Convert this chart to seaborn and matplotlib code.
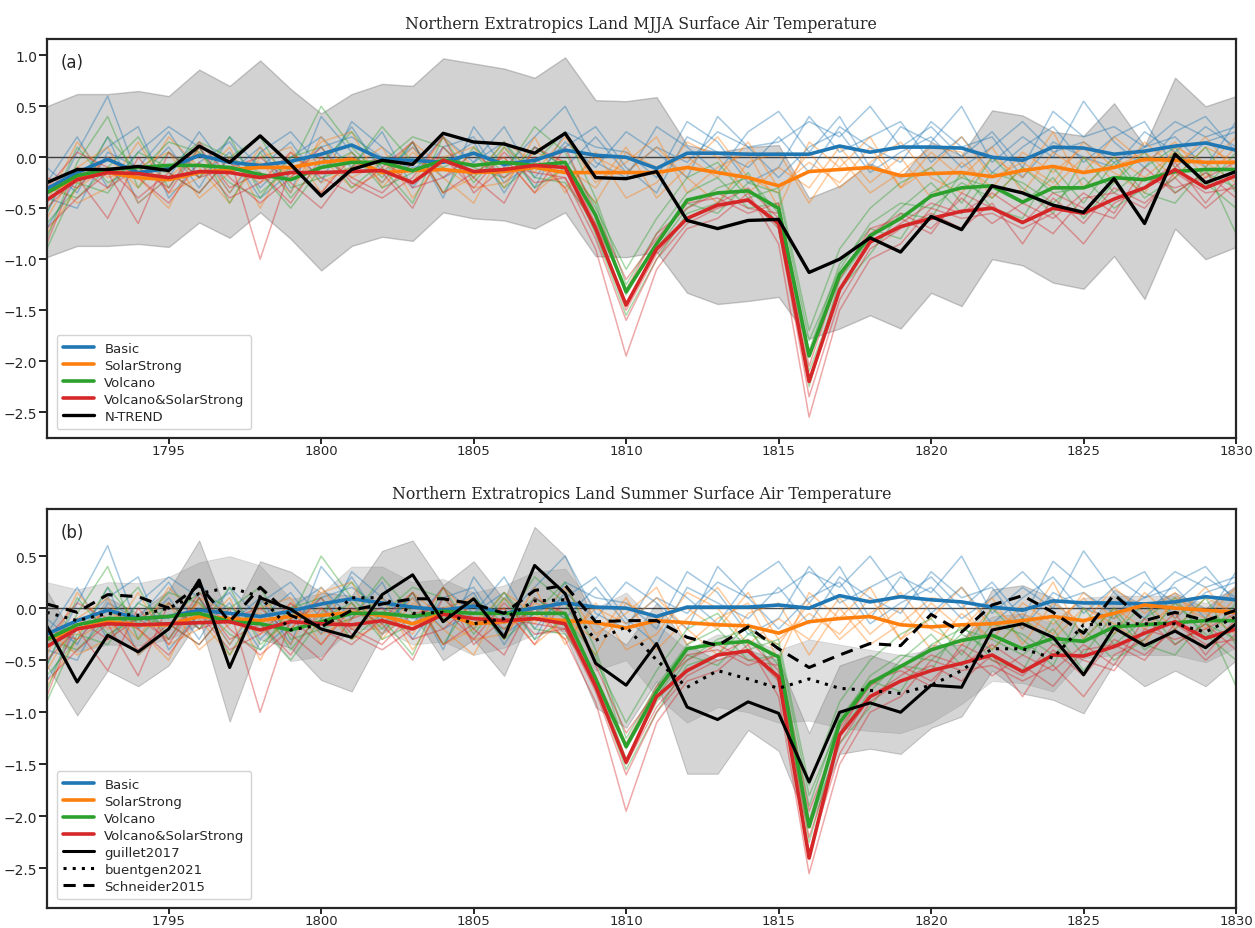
import numpy as np
import pandas as pd
import matplotlib
matplotlib.use("Agg")
import matplotlib.pyplot as plt
import seaborn as sns

years = list(range(1791, 1831))

# ---------------- ensemble members (thin lines) ----------------
basic_members = [
    [-0.55,0.05,0.6,-0.2,0.1,-0.3,0.2,-0.1,0.15,-0.25,0.35,0.1,-0.15,0.2,-0.05,0.3,-0.2,0.15,-0.1,0.25,0.05,-0.2,0.4,0.1,0.15,0.35,0.2,0.5,0.1,0.3,0.0,0.25,-0.1,0.45,0.2,0.3,0.1,0.35,0.2,0.3],
    [-0.1,-0.35,0.2,-0.45,-0.2,0.25,-0.15,0.1,-0.35,0.4,0.05,-0.25,0.15,-0.4,0.3,-0.1,0.2,0.5,-0.05,-0.2,0.3,0.1,-0.15,0.25,0.45,0.05,0.4,-0.1,0.3,0.15,0.5,-0.05,0.2,0.0,0.55,0.15,-0.1,0.25,0.4,0.05],
    [-0.7,-0.2,0.1,0.3,-0.4,-0.05,0.15,-0.3,0.0,0.2,-0.1,0.25,-0.3,0.1,0.2,-0.25,-0.05,0.1,0.3,-0.1,-0.35,0.2,0.05,-0.1,0.2,-0.15,0.3,0.1,-0.05,0.35,0.1,0.2,-0.2,0.15,0.0,-0.1,0.25,0.05,0.3,0.1],
    [-0.25,0.2,-0.3,0.05,0.3,0.1,-0.35,0.05,0.25,-0.1,0.3,-0.15,0.1,-0.2,-0.05,0.15,-0.3,0.25,0.1,0.05,-0.2,0.35,0.15,-0.25,-0.1,0.4,0.05,0.2,0.35,-0.05,0.2,-0.15,0.1,0.3,-0.05,0.2,0.35,-0.1,0.15,0.25],
    [-0.4,-0.5,0.05,-0.1,0.25,-0.2,0.05,-0.4,-0.15,0.1,0.2,0.0,-0.1,-0.05,0.15,-0.35,0.1,-0.1,0.2,-0.15,0.1,-0.05,0.25,0.1,-0.2,0.1,0.25,-0.15,0.05,0.2,-0.1,0.1,0.35,0.05,0.15,-0.05,0.1,0.2,-0.1,0.35],
]
solar_members = [
    [-0.6,-0.1,0.1,-0.45,-0.2,0.05,-0.35,0.1,-0.2,0.15,0.25,-0.3,0.05,-0.2,-0.45,0.1,-0.15,0.2,-0.25,-0.05,0.2,-0.35,-0.1,0.05,-0.5,0.15,-0.1,0.2,-0.3,0.05,-0.2,0.1,-0.35,0.05,-0.15,0.2,-0.05,0.15,-0.2,0.1],
    [-0.2,-0.45,-0.3,0.15,-0.35,-0.2,0.1,-0.5,0.05,-0.25,-0.1,0.1,-0.4,0.0,0.1,-0.3,0.2,-0.35,0.05,-0.4,-0.25,0.15,0.0,-0.35,-0.1,-0.3,0.1,-0.25,0.0,-0.4,-0.05,-0.3,0.05,-0.15,0.1,-0.25,0.15,-0.1,0.2,-0.15],
    [-0.45,0.15,-0.2,-0.1,0.05,-0.4,-0.15,-0.05,-0.35,0.2,-0.2,-0.05,-0.25,0.2,-0.1,0.0,-0.35,-0.1,-0.3,0.1,-0.4,-0.1,0.2,-0.2,-0.35,0.05,-0.3,-0.05,0.15,-0.2,-0.35,0.0,-0.2,0.25,-0.3,0.0,-0.2,0.05,-0.1,0.2],
    [-0.3,-0.25,0.0,-0.3,0.2,-0.1,-0.45,0.0,0.1,-0.35,0.05,-0.25,0.1,-0.35,-0.2,0.15,-0.05,-0.3,0.0,-0.15,0.1,-0.2,-0.45,-0.05,0.05,-0.45,0.0,-0.35,-0.15,0.1,0.05,-0.4,-0.1,-0.3,0.0,-0.15,-0.35,0.1,-0.05,-0.25],
    [-0.75,-0.3,-0.1,-0.2,-0.5,0.1,-0.05,-0.25,-0.1,0.0,-0.3,-0.15,0.15,-0.1,-0.3,-0.25,0.05,-0.05,-0.45,0.05,-0.1,0.0,-0.2,0.15,-0.3,-0.05,-0.25,0.1,-0.3,-0.1,0.2,-0.2,-0.05,-0.25,0.15,-0.1,0.05,-0.2,0.1,-0.05],
]
volcano_members = [
    [-0.8,-0.05,0.4,-0.3,0.05,-0.2,0.2,-0.35,-0.1,0.5,0.1,-0.2,0.15,-0.35,0.1,-0.15,0.3,0.05,-0.5,-1.1,-0.6,-0.2,-0.05,-0.4,-0.3,-1.7,-0.9,-0.5,-0.25,-0.1,-0.45,0.0,-0.3,-0.55,0.0,-0.35,-0.1,0.1,-0.3,0.05],
    [-0.3,-0.4,-0.1,0.2,-0.3,0.1,-0.45,0.05,-0.4,-0.05,0.25,-0.1,-0.45,0.2,-0.25,0.1,-0.3,-0.1,-0.75,-1.55,-1.0,-0.55,-0.45,-0.15,-0.7,-2.1,-1.3,-0.95,-0.55,-0.6,-0.15,-0.5,-0.6,-0.1,-0.45,-0.05,-0.4,-0.2,0.1,-0.35],
    [-0.55,0.1,-0.25,-0.1,-0.15,-0.35,0.0,0.2,-0.3,-0.2,-0.1,0.3,-0.05,-0.1,0.05,-0.3,-0.05,0.25,-0.4,-1.25,-0.75,-0.35,-0.2,-0.5,-0.45,-1.9,-1.05,-0.7,-0.8,-0.35,-0.2,-0.3,-0.45,-0.2,-0.6,-0.25,0.05,-0.35,-0.15,-0.3],
    [-0.65,-0.3,0.2,-0.15,0.15,0.05,-0.25,-0.4,0.0,0.1,-0.3,-0.05,0.2,0.1,-0.2,0.15,-0.2,-0.25,-0.65,-1.45,-0.9,-0.5,-0.3,-0.2,-0.55,-2.25,-1.2,-0.8,-0.5,-0.25,-0.55,-0.15,-0.25,-0.45,-0.2,-0.5,-0.3,0.05,-0.25,-0.5],
    [-0.9,-0.25,-0.35,0.05,-0.1,0.15,0.0,-0.15,-0.5,-0.1,0.05,-0.3,-0.15,0.0,-0.1,-0.2,0.1,-0.1,-0.45,-1.35,-0.85,-0.45,-0.55,-0.25,-0.35,-1.8,-1.1,-0.65,-0.45,-0.5,-0.25,-0.4,-0.1,-0.35,-0.3,0.0,-0.35,-0.45,-0.1,-0.75],
]
volsolar_members = [
    [-0.5,-0.2,-0.6,0.0,-0.35,0.1,-0.3,-0.15,-0.45,0.0,-0.2,-0.35,-0.05,0.0,-0.3,0.05,-0.25,-0.2,-0.8,-1.6,-1.0,-0.65,-0.5,-0.4,-0.7,-2.35,-1.4,-0.9,-0.7,-0.55,-0.7,-0.45,-0.85,-0.4,-0.65,-0.3,-0.45,-0.2,-0.5,-0.25],
    [-0.3,0.05,-0.1,-0.4,-0.15,-0.35,0.0,-1.0,-0.1,-0.35,0.0,-0.15,-0.5,0.1,-0.2,-0.45,0.1,-0.05,-0.65,-1.3,-0.75,-0.5,-0.35,-0.5,-0.55,-2.05,-1.15,-0.75,-0.55,-0.7,-0.4,-0.65,-0.45,-0.6,-0.35,-0.55,-0.1,-0.35,-0.15,-0.4],
    [-0.7,-0.4,-0.15,-0.65,0.05,-0.2,-0.1,0.0,-0.25,-0.5,-0.1,0.0,-0.3,-0.2,0.05,-0.2,0.0,-0.3,-0.9,-1.95,-1.1,-0.7,-0.6,-0.35,-0.85,-2.55,-1.5,-1.0,-0.85,-0.5,-0.6,-0.55,-0.7,-0.55,-0.85,-0.45,-0.3,-0.05,-0.45,-0.1],
    [-0.2,-0.3,0.0,-0.2,-0.45,-0.05,-0.4,-0.25,0.05,-0.2,-0.35,-0.1,0.15,-0.35,-0.15,0.0,-0.35,0.1,-0.55,-1.2,-0.8,-0.45,-0.4,-0.55,-0.45,-1.95,-1.2,-0.7,-0.6,-0.75,-0.35,-0.5,-0.65,-0.35,-0.5,-0.6,-0.2,-0.3,-0.2,-0.05],
    [-0.85,-0.1,-0.3,-0.1,-0.3,0.15,-0.2,-0.45,-0.2,0.1,-0.25,-0.4,-0.2,0.2,-0.35,-0.1,-0.15,-0.2,-0.7,-1.5,-0.95,-0.6,-0.45,-0.3,-0.6,-2.2,-1.3,-0.85,-0.65,-0.45,-0.55,-0.35,-0.55,-0.75,-0.4,-0.35,-0.5,-0.15,-0.35,-0.3],
]

# ---------------- panel (a): ensemble means + N-TREND ----------------
basic_a = [-0.31,-0.15,-0.02,-0.15,-0.11,0.02,-0.05,-0.08,-0.04,0.03,0.12,-0.02,-0.03,-0.05,0.04,-0.07,-0.03,0.07,0.02,0.0,-0.11,0.04,0.04,0.03,0.03,0.03,0.11,0.05,0.1,0.1,0.09,0.0,-0.03,0.1,0.09,0.03,0.06,0.11,0.14,0.07]
solar_a = [-0.35,-0.2,-0.15,-0.2,-0.22,-0.15,-0.12,-0.1,-0.1,-0.05,-0.02,-0.15,-0.13,-0.12,-0.15,-0.14,-0.1,-0.15,-0.15,-0.15,-0.15,-0.1,-0.15,-0.2,-0.28,-0.14,-0.12,-0.1,-0.18,-0.16,-0.15,-0.19,-0.13,-0.09,-0.15,-0.1,-0.02,-0.03,-0.05,-0.05]
volcano_a = [-0.35,-0.18,-0.12,-0.1,-0.08,-0.08,-0.1,-0.17,-0.22,-0.1,-0.05,-0.05,-0.13,-0.03,-0.08,-0.05,-0.08,-0.05,-0.57,-1.32,-0.85,-0.42,-0.35,-0.33,-0.5,-1.95,-1.15,-0.77,-0.6,-0.38,-0.3,-0.28,-0.44,-0.3,-0.3,-0.2,-0.22,-0.14,-0.12,-0.12]
volsolar_a = [-0.42,-0.22,-0.15,-0.16,-0.2,-0.14,-0.15,-0.2,-0.15,-0.15,-0.14,-0.13,-0.25,-0.03,-0.14,-0.12,-0.08,-0.1,-0.7,-1.45,-0.9,-0.6,-0.47,-0.42,-0.65,-2.2,-1.3,-0.83,-0.68,-0.6,-0.53,-0.5,-0.64,-0.5,-0.55,-0.41,-0.3,-0.12,-0.3,-0.18]
ntrend = [-0.25,-0.12,-0.12,-0.09,-0.13,0.11,-0.05,0.21,-0.07,-0.38,-0.12,-0.03,-0.07,0.235,0.15,0.13,0.04,0.235,-0.2,-0.21,-0.14,-0.62,-0.7,-0.62,-0.61,-1.13,-1.0,-0.79,-0.93,-0.58,-0.71,-0.28,-0.35,-0.47,-0.54,-0.21,-0.65,0.03,-0.25,-0.14]
ntrend_hi = [0.5,0.62,0.62,0.65,0.6,0.86,0.7,0.95,0.67,0.43,0.62,0.72,0.7,0.97,0.92,0.87,0.78,0.98,0.56,0.55,0.59,0.12,0.05,0.1,0.12,-0.4,-0.28,-0.06,-0.2,0.15,0.02,0.46,0.41,0.25,0.21,0.53,0.11,0.78,0.5,0.6]
ntrend_lo = [-0.98,-0.87,-0.87,-0.85,-0.88,-0.64,-0.79,-0.54,-0.8,-1.11,-0.87,-0.78,-0.82,-0.54,-0.6,-0.62,-0.7,-0.54,-0.97,-0.98,-0.93,-1.33,-1.44,-1.41,-1.37,-1.78,-1.68,-1.55,-1.68,-1.33,-1.46,-1.0,-1.06,-1.23,-1.29,-0.97,-1.39,-0.7,-1.0,-0.88]

# ---------------- panel (b): ensemble means + reconstructions ----------------
basic_b = [-0.25,-0.12,-0.02,-0.1,-0.08,-0.02,-0.05,-0.08,-0.03,0.04,0.09,0.05,0.01,-0.02,0.02,-0.05,0.0,0.05,0.01,0.0,-0.08,0.01,0.01,0.01,0.03,0.0,0.12,0.06,0.11,0.08,0.06,0.01,-0.02,0.07,0.05,0.05,0.04,0.06,0.11,0.08]
solar_b = [-0.3,-0.2,-0.13,-0.16,-0.16,-0.08,-0.1,-0.12,-0.08,-0.07,-0.04,-0.07,-0.15,-0.05,-0.15,-0.13,-0.1,-0.12,-0.14,-0.19,-0.12,-0.14,-0.16,-0.17,-0.24,-0.13,-0.1,-0.08,-0.16,-0.18,-0.16,-0.15,-0.12,-0.08,-0.12,-0.05,0.03,0.0,-0.02,-0.04]
volcano_b = [-0.3,-0.16,-0.1,-0.1,-0.08,-0.05,-0.13,-0.15,-0.21,-0.13,-0.05,-0.05,-0.08,-0.03,-0.05,-0.05,-0.05,-0.05,-0.68,-1.33,-0.8,-0.39,-0.34,-0.32,-0.47,-2.1,-1.1,-0.72,-0.56,-0.4,-0.31,-0.26,-0.39,-0.29,-0.32,-0.18,-0.16,-0.14,-0.12,-0.12]
volsolar_b = [-0.37,-0.2,-0.15,-0.16,-0.15,-0.14,-0.13,-0.21,-0.13,-0.15,-0.16,-0.12,-0.2,-0.06,-0.1,-0.12,-0.1,-0.15,-0.75,-1.48,-0.85,-0.6,-0.45,-0.41,-0.66,-2.4,-1.22,-0.85,-0.7,-0.6,-0.53,-0.45,-0.61,-0.45,-0.46,-0.37,-0.24,-0.13,-0.29,-0.2]
guillet = [-0.17,-0.71,-0.26,-0.42,-0.2,0.27,-0.57,0.1,-0.01,-0.2,-0.28,0.13,0.32,-0.13,0.09,-0.28,0.41,0.14,-0.53,-0.74,-0.34,-0.95,-1.07,-0.9,-1.01,-1.67,-1.0,-0.91,-1.0,-0.74,-0.76,-0.21,-0.15,-0.28,-0.64,-0.19,-0.36,-0.22,-0.38,-0.15]
guillet_hi = [0.17,-0.33,0.1,-0.05,0.17,0.65,-0.12,0.45,0.35,0.15,0.12,0.55,0.65,0.22,0.45,0.08,0.78,0.5,-0.15,-0.35,0.05,-0.35,-0.5,-0.4,-0.5,-1.2,-0.55,-0.45,-0.55,-0.35,-0.35,0.18,0.22,0.1,-0.25,0.18,0.02,0.15,0.0,0.22]
guillet_lo = [-0.55,-1.03,-0.6,-0.75,-0.55,-0.1,-1.09,-0.3,-0.38,-0.69,-0.8,-0.25,-0.05,-0.5,-0.3,-0.65,0.02,-0.25,-0.95,-1.15,-0.7,-1.59,-1.59,-1.17,-1.37,-2.1,-1.4,-1.35,-1.4,-1.15,-1.04,-0.6,-0.82,-0.88,-1.01,-0.53,-0.75,-0.6,-0.75,-0.5]
buentgen = [-0.04,-0.12,-0.05,-0.07,0.0,0.14,0.2,0.11,-0.21,-0.16,0.1,0.1,-0.05,-0.04,-0.15,-0.1,0.07,0.08,-0.31,-0.18,-0.5,-0.76,-0.6,-0.68,-0.77,-0.68,-0.77,-0.79,-0.82,-0.74,-0.6,-0.39,-0.39,-0.48,-0.16,-0.15,-0.15,-0.15,-0.23,-0.08]
buentgen_hi = [0.25,0.18,0.25,0.24,0.3,0.44,0.5,0.41,0.09,0.14,0.4,0.4,0.25,0.28,0.15,0.22,0.35,0.38,0.0,0.15,-0.15,-0.4,-0.25,-0.3,-0.4,-0.3,-0.35,-0.4,-0.45,-0.4,-0.28,-0.08,-0.05,-0.15,0.1,0.12,0.12,0.12,0.05,0.2]
buentgen_lo = [-0.33,-0.42,-0.35,-0.36,-0.3,-0.16,-0.1,-0.19,-0.51,-0.46,-0.2,-0.2,-0.35,-0.32,-0.45,-0.38,-0.25,-0.22,-0.6,-0.5,-0.85,-1.1,-0.95,-1.0,-1.1,-1.08,-1.15,-1.18,-1.2,-1.1,-0.92,-0.7,-0.72,-0.8,-0.48,-0.45,-0.45,-0.45,-0.52,-0.38]
schneider = [0.04,-0.04,0.13,0.11,0.0,0.22,-0.13,0.2,-0.07,-0.18,-0.02,0.04,0.09,0.09,0.04,-0.05,0.17,0.22,-0.13,-0.12,-0.12,-0.28,-0.36,-0.18,-0.39,-0.57,-0.45,-0.34,-0.36,-0.06,-0.23,0.03,0.12,-0.04,-0.24,0.13,-0.12,-0.04,-0.12,-0.02]

exp_names = ["Basic", "SolarStrong", "Volcano", "Volcano&SolarStrong"]
titles = ["Northern Extratropics Land MJJA Surface Air Temperature",
          "Northern Extratropics Land Summer Surface Air Temperature"]
panel_labels = ["(a)", "(b)"]
xticks = [1795, 1800, 1805, 1810, 1815, 1820, 1825, 1830]

# ---------------- style ----------------
sns.set_style("ticks")
plt.rcParams["font.family"] = ["DejaVu Sans"]
colors = sns.color_palette("tab10", 4)

fig = plt.figure(figsize=(12.55, 9.29), dpi=100)
ax_a = fig.add_axes([0.0372, 0.5274, 0.9477, 0.4295])
ax_b = fig.add_axes([0.0372, 0.0215, 0.9477, 0.4295])

members = [basic_members, solar_members, volcano_members, volsolar_members]
means = {"a": [basic_a, solar_a, volcano_a, volsolar_a],
         "b": [basic_b, solar_b, volcano_b, volsolar_b]}


def draw_members(ax):
    for col, mset in zip(colors, members):
        for m in mset:
            sns.lineplot(x=years, y=m, ax=ax, color=col, lw=1.1, alpha=0.4)


def draw_means(ax, key):
    for col, name, mv in zip(colors, exp_names, means[key]):
        sns.lineplot(x=years, y=mv, ax=ax, color=col, lw=2.6, label=name)


def style_axes(ax, idx, ylim):
    ax.axhline(0, color="black", lw=1.0, alpha=0.7, zorder=1.5)
    ax.set_xlim(1791, 1830)
    ax.set_ylim(*ylim)
    ax.set_xticks(xticks)
    ax.set_xlabel("")
    ax.set_ylabel("")
    for s in ax.spines.values():
        s.set_linewidth(1.6)
        s.set_visible(True)
    ax.tick_params(axis="y", length=6, width=1.4, labelsize=10, pad=1)
    ax.tick_params(axis="x", length=4, width=1.4, labelsize=9.5, pad=0.5)
    ax.set_title(titles[idx], family="DejaVu Serif", fontsize=11.3, pad=8)
    ax.text(0.012, 0.965, panel_labels[idx], transform=ax.transAxes,
            fontsize=12, va="top", ha="left")
    ax.legend(loc="lower left", fontsize=9.5, handlelength=2.3,
              framealpha=0.85, borderpad=0.5, labelspacing=0.3,
              bbox_to_anchor=(0.003, 0.005))


# panel (a)
ax_a.fill_between(years, ntrend_lo, ntrend_hi, color="gray", alpha=0.35,
                  edgecolor="dimgray", lw=1.0, zorder=1)
draw_members(ax_a)
draw_means(ax_a, "a")
sns.lineplot(x=years, y=ntrend, ax=ax_a, color="black", lw=2.4, label="N-TREND")
style_axes(ax_a, 0, (-2.755, 1.16))

# panel (b)
ax_b.fill_between(years, guillet_lo, guillet_hi, color="gray", alpha=0.33,
                  edgecolor="dimgray", lw=0.8, zorder=1)
ax_b.fill_between(years, buentgen_lo, buentgen_hi, color="gray", alpha=0.25,
                  edgecolor="gray", lw=0.6, zorder=1)
draw_members(ax_b)
draw_means(ax_b, "b")
sns.lineplot(x=years, y=guillet, ax=ax_b, color="black", lw=2.2, label="guillet2017")
sns.lineplot(x=years, y=buentgen, ax=ax_b, color="black", lw=2.2,
             linestyle=(0, (1, 2)), label="buentgen2021")
sns.lineplot(x=years, y=schneider, ax=ax_b, color="black", lw=2.2,
             linestyle=(0, (4, 2.5)), label="Schneider2015")
style_axes(ax_b, 1, (-2.88, 0.952))

fig.savefig("out.png", dpi=100)
